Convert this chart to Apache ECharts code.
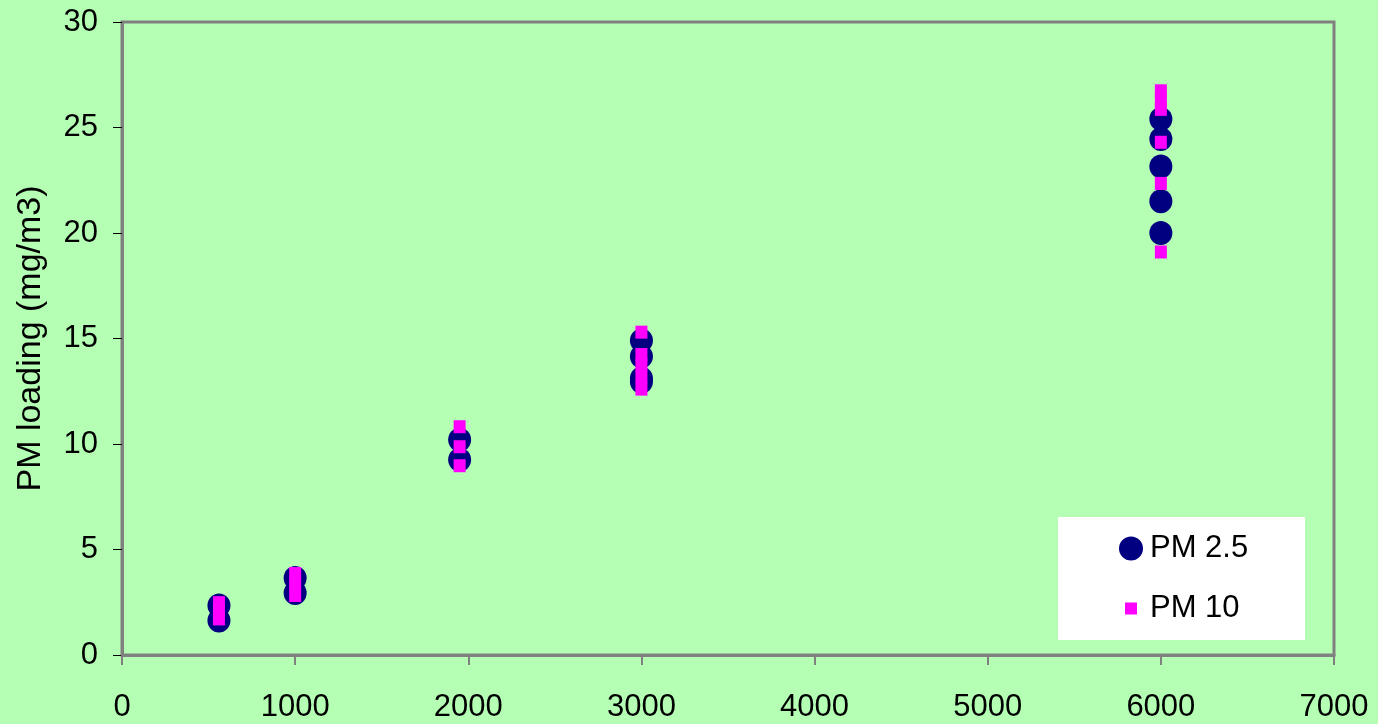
<!DOCTYPE html>
<html>
<head>
<meta charset="utf-8">
<script src="https://cdn.jsdelivr.net/npm/echarts@6/dist/echarts.min.js"></script>
<style>
  html, body { margin: 0; padding: 0; background: #b4ffb4; }
  #chart { width: 1378px; height: 724px; }
</style>
</head>
<body>
<div id="chart"></div>
<script>
// ---- data ----
const seriesNames = ['PM 2.5', 'PM 10'];
const xTicks = [0, 1000, 2000, 3000, 4000, 5000, 6000, 7000];
const yTicks = [0, 5, 10, 15, 20, 25, 30];

const pm25X = [560, 560, 1000, 1000, 1950, 1950, 3000, 3000, 3000, 3000, 6000, 6000, 6000, 6000, 6000];
const pm25Y = [2.35, 1.63, 3.65, 2.94, 10.2, 9.25, 14.9, 14.15, 13.1, 12.95, 25.4, 24.45, 23.15, 21.5, 20.0];

const pm10X = [560, 560, 560, 1000, 1000, 1000, 1950, 1950, 1950, 3000, 3000, 3000, 3000, 3000, 6000, 6000, 6000, 6000, 6000, 6000];
const pm10Y = [2.48, 2.1, 1.71, 3.86, 3.35, 2.82, 10.82, 9.87, 8.97, 15.3, 14.24, 13.74, 13.17, 12.6, 26.74, 26.3, 25.86, 24.3, 22.35, 19.1];

const pairs = (xs, ys) => xs.map((x, i) => [x, ys[i]]);

const FONT = 'Liberation Sans, Arial, sans-serif';
const chart = echarts.init(document.getElementById('chart'), null, { renderer: 'canvas' });

chart.setOption({
  backgroundColor: '#b4ffb4',
  animation: false,
  textStyle: { fontFamily: FONT },
  grid: {
    left: 122, right: 44, top: 22, bottom: 69,
    show: true, borderColor: '#808080', borderWidth: 3,
    backgroundColor: 'transparent'
  },
  graphic: [{
    type: 'rect', z: 1,
    shape: { x: 1058, y: 517, width: 247, height: 123 },
    style: { fill: '#ffffff' }
  }],
  legend: [
    {
      data: [{ name: seriesNames[0], icon: 'circle' }],
      left: 1119, top: 533, padding: 0, z: 10,
      itemWidth: 24, itemHeight: 24,
      textStyle: { fontSize: 31, color: '#000', fontFamily: FONT, padding: [0, 0, 0, 2] }
    },
    {
      data: [{ name: seriesNames[1], icon: 'rect' }],
      left: 1125, top: 593, padding: 0, z: 10,
      itemWidth: 12, itemHeight: 12,
      textStyle: { fontSize: 31, color: '#000', fontFamily: FONT, padding: [0, 0, 0, 8] }
    }
  ],
  xAxis: {
    type: 'value',
    min: xTicks[0], max: xTicks[xTicks.length - 1], interval: 1000,
    splitLine: { show: false },
    axisLine: { show: true, onZero: false, lineStyle: { color: '#808080', width: 3 } },
    axisTick: { show: true, inside: false, length: 10, lineStyle: { color: '#808080', width: 2 } },
    axisLabel: { fontSize: 31, color: '#000', margin: 37, fontFamily: FONT, formatter: v => String(v) }
  },
  yAxis: {
    type: 'value',
    min: yTicks[0], max: yTicks[yTicks.length - 1], interval: 5,
    name: 'PM loading (mg/m3)',
    nameLocation: 'middle', nameGap: 74,
    nameTextStyle: { fontSize: 34, color: '#000', fontFamily: FONT },
    splitLine: { show: false },
    axisLine: { show: true, onZero: false, lineStyle: { color: '#808080', width: 3 } },
    axisTick: { show: true, inside: false, length: 9, lineStyle: { color: '#000', width: 1 } },
    axisLabel: { fontSize: 31, color: '#000', margin: 24, fontFamily: FONT, formatter: v => String(v) }
  },
  series: [
    {
      name: seriesNames[0], type: 'scatter',
      symbol: 'circle', symbolSize: [23, 24],
      itemStyle: { color: '#000080', opacity: 1 },
      data: pairs(pm25X, pm25Y), z: 2
    },
    {
      name: seriesNames[1], type: 'scatter',
      symbol: 'rect', symbolSize: [12, 13],
      itemStyle: { color: '#ff00ff', opacity: 1 },
      data: pairs(pm10X, pm10Y), z: 3
    }
  ]
});
</script>
</body>
</html>
